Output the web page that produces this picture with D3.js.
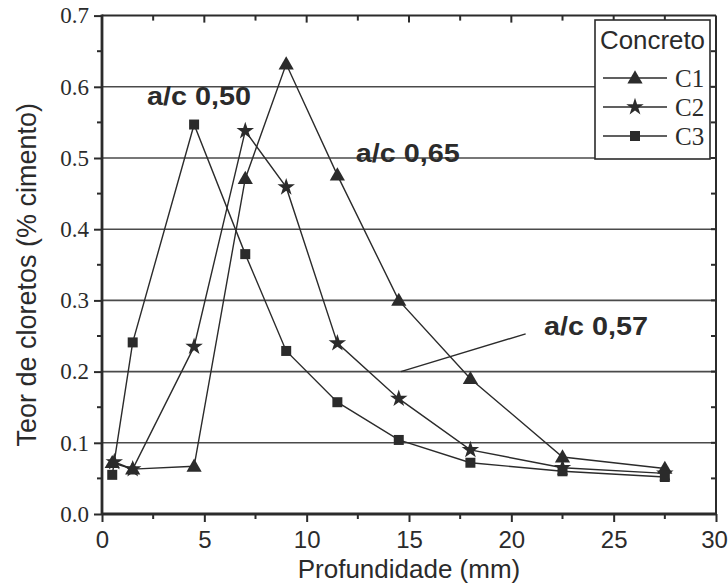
<!DOCTYPE html>
<html>
<head>
<meta charset="utf-8">
<script src="https://cdn.jsdelivr.net/npm/d3@7"></script>
<style>
  html, body { margin: 0; padding: 0; background: #fff; }
  svg { display: block; }
</style>
</head>
<body>
<svg id="chart" width="728" height="583"></svg>
<script>
// Depth (mm) and chloride content (% of cement) per concrete
const depthC1 = [0.5, 1.5, 4.5, 7, 9, 11.5, 14.5, 18, 22.5, 27.5];
const chlorideC1 = [0.072, 0.063, 0.067, 0.471, 0.632, 0.476, 0.300, 0.190, 0.080, 0.064];

const depthC2 = [0.6, 1.5, 4.5, 7, 9, 11.5, 14.5, 18, 22.5, 27.5];
const chlorideC2 = [0.073, 0.063, 0.235, 0.538, 0.459, 0.240, 0.162, 0.090, 0.065, 0.057];

const depthC3 = [0.5, 1.5, 4.5, 7, 9, 11.5, 14.5, 18, 22.5, 27.5];
const chlorideC3 = [0.055, 0.241, 0.547, 0.365, 0.229, 0.157, 0.104, 0.072, 0.060, 0.052];

const seriesNames = ["C1", "C2", "C3"];
const xTicks = [0, 5, 10, 15, 20, 25, 30];
const yTicks = [0.0, 0.1, 0.2, 0.3, 0.4, 0.5, 0.6, 0.7];

// Water/cement ratio labels: text, anchor position (depth, chloride)
const annotations = [
  { text: "a/c 0,50", x: 2.2, y: 0.574 },
  { text: "a/c 0,65", x: 12.4, y: 0.494 },
  { text: "a/c 0,57", x: 21.6, y: 0.251 }
];
// leader line for the a/c 0,57 label
const leader = [[14.6, 0.2], [20.7, 0.253]];

const svg = d3.select("#chart");
const L = 102, R = 716, T = 15.6, B = 514;
const x = d3.scaleLinear().domain([0, 30]).range([L, R]);
const y = d3.scaleLinear().domain([0, 0.7]).range([B, T]);

const ink = "#2b2b2b";
const serif = "'Liberation Serif', 'Times New Roman', serif";
const sans = "'Liberation Sans', Arial, sans-serif";

// horizontal gridlines
svg.append("g").selectAll("line")
  .data(yTicks.filter(v => v > 0 && v < 0.7))
  .join("line")
  .attr("x1", L).attr("x2", R)
  .attr("y1", d => y(d)).attr("y2", d => y(d))
  .attr("stroke", "#4a4a4a").attr("stroke-width", 1.6);

// bottom axis
const xAxis = svg.append("g").attr("transform", `translate(0,${B})`)
  .call(d3.axisBottom(x).tickValues(xTicks).tickFormat(d3.format("d")).tickSize(8).tickPadding(9));
xAxis.select(".domain").remove();
xAxis.selectAll(".tick line").attr("stroke", ink).attr("stroke-width", 2);
xAxis.selectAll("text").attr("font-family", sans).attr("font-size", 24).attr("fill", ink)
  .attr("dx", d => d === 30 ? -2 : 0);
// minor x ticks
svg.append("g").selectAll("line").data(d3.range(2.5, 30, 5)).join("line")
  .attr("x1", d => x(d)).attr("x2", d => x(d)).attr("y1", B).attr("y2", B + 5)
  .attr("stroke", ink).attr("stroke-width", 2);
// top ticks (inward)
svg.append("g").selectAll("line").data(d3.range(2.5, 30, 2.5)).join("line")
  .attr("x1", d => x(d)).attr("x2", d => x(d)).attr("y1", T).attr("y2", d => T + (d % 5 === 0 ? 7 : 5))
  .attr("stroke", ink).attr("stroke-width", 2);

// left axis
const yAxis = svg.append("g").attr("transform", `translate(${L},0)`)
  .call(d3.axisLeft(y).tickValues(yTicks).tickFormat(d3.format(".1f")).tickSize(8).tickPadding(5));
yAxis.select(".domain").remove();
yAxis.selectAll(".tick line").attr("stroke", ink).attr("stroke-width", 2);
yAxis.selectAll("text").attr("font-family", serif).attr("font-size", 23).attr("fill", ink);
// minor y ticks (left) and right-side inward ticks
svg.append("g").selectAll("line").data(d3.range(0.05, 0.7, 0.1)).join("line")
  .attr("x1", L - 5).attr("x2", L).attr("y1", d => y(d)).attr("y2", d => y(d))
  .attr("stroke", ink).attr("stroke-width", 2);
svg.append("g").selectAll("line").data(d3.range(0.05, 0.7, 0.05)).join("line")
  .attr("x1", R - 5).attr("x2", R).attr("y1", d => y(d)).attr("y2", d => y(d))
  .attr("stroke", ink).attr("stroke-width", 2);

// frame
svg.append("line").attr("x1", L).attr("x2", R).attr("y1", T).attr("y2", T).attr("stroke", ink).attr("stroke-width", 2);
svg.append("line").attr("x1", R).attr("x2", R).attr("y1", T).attr("y2", B).attr("stroke", ink).attr("stroke-width", 2);
svg.append("line").attr("x1", L).attr("x2", R + 1).attr("y1", B).attr("y2", B).attr("stroke", ink).attr("stroke-width", 2.8);
svg.append("line").attr("x1", L).attr("x2", L).attr("y1", T - 1).attr("y2", B + 1).attr("stroke", ink).attr("stroke-width", 2.8);

// axis titles
svg.append("text").attr("x", (L + R) / 2).attr("y", 578).attr("text-anchor", "middle")
  .attr("font-family", sans).attr("font-size", 26).attr("fill", ink).text("Profundidade (mm)");
svg.append("text").attr("transform", `translate(36,${(T + B) / 2 + 10}) rotate(-90)`).attr("text-anchor", "middle")
  .attr("font-family", sans).attr("font-size", 27).attr("fill", ink).text("Teor de cloretos (% cimento)");

// markers
const symbolFor = {
  C1: d3.symbol().type(d3.symbolTriangle).size(100),
  C2: d3.symbol().type(d3.symbolStar).size(95),
  C3: d3.symbol().type(d3.symbolSquare).size(100)
};
const series = [
  { name: "C1", pts: depthC1.map((d, i) => [d, chlorideC1[i]]) },
  { name: "C2", pts: depthC2.map((d, i) => [d, chlorideC2[i]]) },
  { name: "C3", pts: depthC3.map((d, i) => [d, chlorideC3[i]]) }
];
const line = d3.line().x(d => x(d[0])).y(d => y(d[1]));

// leader line
svg.append("path").attr("d", line(leader)).attr("fill", "none").attr("stroke", ink).attr("stroke-width", 1.4);

series.forEach(s => {
  svg.append("path").attr("d", line(s.pts)).attr("fill", "none").attr("stroke", ink).attr("stroke-width", 1.4);
});
series.forEach(s => {
  svg.append("g").selectAll("path").data(s.pts).join("path")
    .attr("transform", d => `translate(${x(d[0])},${y(d[1]) + (s.name === "C1" ? 1 : 0)})`)
    .attr("d", symbolFor[s.name]()).attr("fill", ink);
});

// labels
svg.append("g").selectAll("text").data(annotations).join("text")
  .attr("x", d => x(d.x)).attr("y", d => y(d.y))
  .attr("font-family", sans).attr("font-weight", "bold").attr("font-size", 25).attr("fill", ink)
  .attr("textLength", 104).attr("lengthAdjust", "spacingAndGlyphs")
  .text(d => d.text);

// legend
const lg = svg.append("g");
lg.append("rect").attr("x", 595).attr("y", 20).attr("width", 115).attr("height", 139)
  .attr("fill", "#fff").attr("stroke", ink).attr("stroke-width", 1.6);
lg.append("text").attr("x", 600).attr("y", 49).attr("font-family", sans).attr("font-size", 25)
  .attr("fill", ink).attr("textLength", 105).attr("lengthAdjust", "spacingAndGlyphs").text("Concreto");
seriesNames.forEach((n, i) => {
  const yy = 78 + i * 29;
  lg.append("line").attr("x1", 603).attr("x2", 667).attr("y1", yy).attr("y2", yy)
    .attr("stroke", ink).attr("stroke-width", 1.4);
  lg.append("path").attr("transform", `translate(635,${yy + (n === "C1" ? 1 : 0)})`)
    .attr("d", symbolFor[n]()).attr("fill", ink);
  lg.append("text").attr("x", 675).attr("y", yy + 9).attr("font-family", serif).attr("font-size", 25)
    .attr("fill", ink).text(n);
});
</script>
</body>
</html>
